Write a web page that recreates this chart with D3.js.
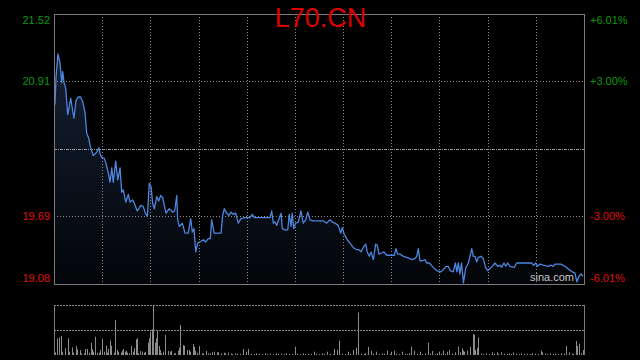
<!DOCTYPE html>
<html>
<head>
<meta charset="utf-8">
<script src="https://cdn.jsdelivr.net/npm/d3@7"></script>
<style>
  html, body { margin: 0; padding: 0; background: #000; }
  svg { display: block; }
  text { font-family: "Liberation Sans", Arial, sans-serif; }
</style>
</head>
<body>
<svg id="chart"></svg>
<script>
const symbol = 'L70.CN';
const prevClose = 20.30;
const priceTicks = [21.52, 20.91, 19.69, 19.08];
const pctTicks = ['+6.01%', '+3.00%', '-3.00%', '-6.01%'];
const sessionMinutes = 390;

// [minute of session, price]
const price = [
  [0.7,20.70],[1.5,20.95],[2.9,21.16],[4.4,21.08],[5.7,20.90],[6.4,21.00],[7.4,20.90],[8.6,20.85],
  [10.1,20.61],[12.3,20.76],[13.8,20.64],[14.7,20.58],[16.2,20.74],[17.9,20.77],[19.6,20.77],[21.1,20.73],
  [22.8,20.63],[24.1,20.44],[25.5,20.40],[27.0,20.31],[28.9,20.24],[31.4,20.27],[33.1,20.31],[33.8,20.26],
  [35.1,20.22],[36.8,20.22],[38.3,20.17],[40.0,20.08],[41.2,20.00],[42.5,20.13],[43.6,20.00],[45.4,20.19],
  [46.9,20.02],[48.6,20.13],[49.8,19.91],[51.0,19.93],[52.8,19.82],[54.7,19.89],[55.9,19.82],[57.9,19.84],
  [59.1,19.81],[61.3,19.74],[63.8,19.79],[65.7,19.78],[67.2,19.72],[68.7,19.69],[70.1,19.99],[71.4,19.96],
  [72.6,19.81],[73.8,19.76],[75.6,19.87],[77.0,19.83],[78.5,19.88],[80.0,19.86],[82.4,19.72],[84.8,19.76],
  [87.3,19.73],[88.8,19.74],[90.3,19.88],[91.0,19.66],[92.2,19.60],[94.4,19.63],[96.4,19.54],[98.8,19.54],
  [100.6,19.67],[101.8,19.55],[103.0,19.58],[104.3,19.37],[105.7,19.45],[107.4,19.46],[109.9,19.48],[111.6,19.46],
  [113.5,19.49],[115.0,19.49],[116.0,19.66],[117.9,19.54],[120.5,19.54],[122.9,19.54],[124.1,19.70],[125.3,19.76],
  [127.1,19.72],[128.8,19.70],[130.2,19.73],[131.9,19.71],[133.7,19.72],[135.6,19.63],[137.6,19.67],[140.5,19.68],
  [144.2,19.68],[145.9,19.71],[147.4,19.68],[158.9,19.68],[160.2,19.74],[161.4,19.63],[162.6,19.64],[163.9,19.61],
  [165.6,19.67],[167.1,19.72],[168.0,19.58],[170.0,19.57],[172.0,19.57],[173.1,19.71],[174.4,19.60],[175.3,19.72],
  [176.4,19.58],[177.8,19.63],[179.8,19.64],[181.7,19.74],[183.4,19.63],[185.2,19.66],[186.7,19.73],[188.4,19.66],
  [190.8,19.65],[198.2,19.65],[200.7,19.63],[203.1,19.66],[204.8,19.64],[206.8,19.63],[209.2,19.61],[211.0,19.54],
  [212.1,19.59],[213.6,19.53],[215.8,19.48],[217.8,19.45],[220.2,19.41],[222.7,19.39],[224.4,19.39],[225.9,19.37],
  [227.6,19.41],[229.4,19.44],[230.5,19.37],[232.0,19.33],[233.3,19.37],[235.0,19.30],[236.7,19.44],[237.9,19.43],
  [239.2,19.35],[241.1,19.36],[242.8,19.37],[244.8,19.34],[250.4,19.34],[251.6,19.40],[252.9,19.35],[254.6,19.35],
  [257.0,19.33],[259.5,19.32],[261.9,19.31],[263.6,19.30],[265.6,19.31],[266.9,19.33],[268.1,19.40],[269.3,19.29],
  [271.0,19.29],[273.0,19.30],[274.2,19.27],[276.2,19.27],[279.1,19.23],[281.6,19.20],[284.8,19.19],[286.4,19.21],
  [288.4,19.24],[290.1,19.24],[291.6,19.20],[293.8,19.19],[295.4,19.27],[296.5,19.19],[297.6,19.27],[298.7,19.17],
  [299.9,19.27],[301.3,19.09],[302.9,19.22],[304.9,19.27],[306.1,19.33],[307.4,19.40],[308.5,19.33],[309.8,19.33],
  [311.0,19.28],[312.2,19.32],[314.2,19.33],[315.9,19.31],[317.6,19.23],[319.1,19.20],[320.8,19.22],[322.5,19.24],
  [324.5,19.27],[326.5,19.24],[328.2,19.25],[329.4,19.23],[331.1,19.27],[332.4,19.24],[333.8,19.27],[335.5,19.24],
  [338.7,19.23],[340.4,19.27],[351.5,19.27],[353.0,19.25],[354.4,19.27],[355.9,19.24],[357.6,19.26],[360.0,19.25],
  [363.7,19.24],[365.5,19.25],[367.4,19.24],[368.6,19.26],[373.0,19.26],[376.0,19.24],[378.9,19.21],[381.4,19.19],
  [383.3,19.18],[384.8,19.10],[386.3,19.15],[387.8,19.17],[389.2,19.15]
];

// [minute of session, shares]
const volume = [
  [1,800],[2,5000],[4,5300],[5,5700],[6,1000],[8,2000],[10,5000],[11,1000],[13,2300],[14,700],[16,2700],
  [17,1700],[19,1500],[20,500],[22,500],[23,1800],[24,1800],[26,700],[27,3700],[28,1800],[29,1000],[30,5500],
  [32,700],[33,700],[34,1500],[35,4900],[37,1000],[38,2800],[39,700],[40,1800],[41,4300],[42,2800],[44,700],
  [45,10500],[46,1500],[47,1000],[49,700],[50,1300],[51,1800],[52,1000],[53,1300],[54,700],[55,500],[57,2700],
  [58,1000],[59,2000],[60,4700],[61,5000],[62,500],[63,1200],[65,1000],[66,700],[67,1000],[69,3700],[70,5000],
  [71,7000],[72,7700],[73,15000],[74,3700],[75,5000],[76,7200],[77,2700],[78,1500],[79,500],[80,1000],[82,6000],
  [84,1200],[85,1000],[86,1300],[88,500],[89,500],[91,1300],[92,2200],[93,9000],[95,3000],[96,2800],[98,1500],
  [99,1500],[100,1000],[102,3300],[103,2500],[104,1300],[105,700],[107,2700],[109,500],[110,500],[112,1200],
  [113,500],[115,500],[116,800],[118,1000],[120,800],[121,800],[123,500],[125,700],[126,500],[128,700],
  [130,400],[131,300],[133,500],[135,400],[137,300],[139,1800],[141,1000],[143,1800],[145,400],[147,300],
  [149,500],[151,400],[153,300],[155,500],[157,300],[159,400],[161,300],[163,500],[165,300],[167,400],
  [169,300],[171,500],[173,400],[175,300],[177,2500],[179,400],[181,300],[183,500],[185,300],[187,400],
  [189,300],[191,1000],[193,400],[195,300],[197,500],[199,300],[201,1000],[203,400],[205,300],[206,1800],
  [208,1500],[210,4300],[212,400],[214,300],[216,1000],[218,400],[220,1500],[222,2200],[224,12700],[226,400],
  [228,300],[229,500],[231,2500],[233,1300],[235,400],[237,1000],[239,300],[241,500],[243,400],[245,1300],
  [247,300],[248,1000],[250,1300],[252,400],[254,300],[256,1000],[258,400],[260,300],[261,500],[263,2500],
  [265,1300],[267,400],[269,1000],[271,300],[273,500],[275,3700],[277,400],[278,1200],[280,300],[282,500],
  [283,1000],[285,400],[286,1300],[288,300],[289,1000],[291,1500],[293,400],[295,800],[297,2500],[299,800],
  [300,2000],[301,1300],[302,1000],[304,1300],[306,2500],[308,6300],[309,6100],[310,1500],[311,2200],[312,5300],
  [314,400],[316,300],[318,500],[320,300],[322,800],[324,400],[326,800],[327,300],[329,800],[331,400],
  [333,300],[335,500],[336,300],[338,800],[340,400],[342,300],[344,500],[346,300],[348,400],[350,300],
  [352,500],[354,400],[356,300],[358,1300],[359,800],[361,400],[363,300],[365,500],[367,300],[369,400],
  [371,300],[373,500],[375,400],[377,2700],[379,800],[381,400],[382,300],[384,4200],[385,2700],[386,3400],
  [388,500],[389,1500]
];

const width = 640, height = 360;
const plot = {left: 54, right: 584, top: 14, bottom: 284};
const volPanel = {top: 305, bottom: 355};

const svg = d3.select('#chart')
    .attr('width', width)
    .attr('height', height);

svg.append('rect')
    .attr('width', width)
    .attr('height', height)
    .attr('fill', '#000');

const x = d3.scaleLinear()
    .domain([0, sessionMinutes])
    .range([plot.left, plot.right]);
const y = d3.scaleLinear()
    .domain([d3.min(priceTicks), d3.max(priceTicks)])
    .range([plot.bottom, plot.top]);
const vy = d3.scaleLinear()
    .domain([0, d3.max(volume, d => d[1])])
    .range([volPanel.bottom, volPanel.top]);

const defs = svg.append('defs');
const grad = defs.append('linearGradient')
    .attr('id', 'area-fill')
    .attr('gradientUnits', 'userSpaceOnUse')
    .attr('x1', 0).attr('x2', 0)
    .attr('y1', plot.top).attr('y2', plot.bottom);
grad.append('stop').attr('offset', '0%').attr('stop-color', '#18253d');
grad.append('stop').attr('offset', '100%').attr('stop-color', '#030508');

// price area first so the grid shows through it
const area = d3.area()
    .x(d => x(d[0]))
    .y0(plot.bottom)
    .y1(d => y(d[1]));
const line = d3.line()
    .x(d => x(d[0]))
    .y(d => y(d[1]));

svg.append('path')
    .datum(price)
    .attr('fill', 'url(#area-fill)')
    .attr('d', area);

// grid
const vLines = d3.range(1, 11).map(i => sessionMinutes * i / 11);
svg.append('g')
  .selectAll('line')
  .data(vLines)
  .join('line')
    .attr('x1', d => Math.round(x(d)) + 0.5)
    .attr('x2', d => Math.round(x(d)) + 0.5)
    .attr('y1', plot.top)
    .attr('y2', plot.bottom)
    .attr('stroke', '#8a8a8a')
    .attr('stroke-dasharray', '1,2');

svg.append('g')
  .selectAll('line')
  .data(priceTicks.slice(1, 3))
  .join('line')
    .attr('x1', plot.left)
    .attr('x2', plot.right)
    .attr('y1', d => Math.round(y(d)) + 0.5)
    .attr('y2', d => Math.round(y(d)) + 0.5)
    .attr('stroke', '#8a8a8a')
    .attr('stroke-dasharray', '1,2');

svg.append('line')
    .attr('x1', plot.left)
    .attr('x2', plot.right)
    .attr('y1', Math.round(y(prevClose)) + 0.5)
    .attr('y2', Math.round(y(prevClose)) + 0.5)
    .attr('stroke', '#9a9a9a')
    .attr('stroke-dasharray', '3,1,1,1');

svg.append('path')
    .datum(price)
    .attr('fill', 'none')
    .attr('stroke', '#4d86de')
    .attr('stroke-width', 1.3)
    .attr('stroke-linejoin', 'round')
    .attr('d', line);

svg.append('rect')
    .attr('x', plot.left + 0.5)
    .attr('y', plot.top + 0.5)
    .attr('width', plot.right - plot.left)
    .attr('height', plot.bottom - plot.top)
    .attr('fill', 'none')
    .attr('stroke', '#7a7a7a');

// tick labels, top and bottom pulled inside the frame
const labelY = (d, i) => y(d) + (i === 0 ? 6 : i === priceTicks.length - 1 ? -6 : 0);
const tickColor = d => d > prevClose ? '#0c9a0c' : '#e00d0d';

svg.append('g')
  .selectAll('text')
  .data(priceTicks)
  .join('text')
    .attr('x', plot.left - 4)
    .attr('y', labelY)
    .attr('dy', '0.35em')
    .attr('text-anchor', 'end')
    .attr('font-size', 11)
    .attr('fill', tickColor)
    .text(d => d.toFixed(2));

svg.append('g')
  .selectAll('text')
  .data(priceTicks)
  .join('text')
    .attr('x', plot.right + 6)
    .attr('y', labelY)
    .attr('dy', '0.35em')
    .attr('font-size', 11)
    .attr('fill', tickColor)
    .text((d, i) => pctTicks[i]);

svg.append('text')
    .attr('x', 320.5)
    .attr('y', 27)
    .attr('text-anchor', 'middle')
    .attr('font-size', 27)
    .attr('fill', '#dd0000')
    .text(symbol);

svg.append('text')
    .attr('x', plot.right - 10)
    .attr('y', plot.bottom - 3)
    .attr('text-anchor', 'end')
    .attr('font-size', 11)
    .attr('fill', '#c8c8c8')
    .text('sina.com');

// volume panel
svg.append('g')
  .selectAll('line')
  .data([vy.domain()[1], vy.domain()[1] / 2])
  .join('line')
    .attr('x1', plot.left)
    .attr('x2', plot.right)
    .attr('y1', d => Math.round(vy(d)) + 0.5)
    .attr('y2', d => Math.round(vy(d)) + 0.5)
    .attr('stroke', '#8a8a8a')
    .attr('stroke-dasharray', '2,1');

svg.append('g')
  .selectAll('rect')
  .data(volume)
  .join('rect')
    .attr('x', d => Math.round(x(d[0])))
    .attr('y', d => vy(d[1]))
    .attr('width', 1)
    .attr('height', d => volPanel.bottom - vy(d[1]))
    .attr('fill', '#8c8c8c');

svg.append('g')
  .selectAll('line')
  .data([plot.left, plot.right])
  .join('line')
    .attr('x1', d => d + 0.5)
    .attr('x2', d => d + 0.5)
    .attr('y1', volPanel.top)
    .attr('y2', volPanel.bottom)
    .attr('stroke', '#7a7a7a');
</script>
</body>
</html>
